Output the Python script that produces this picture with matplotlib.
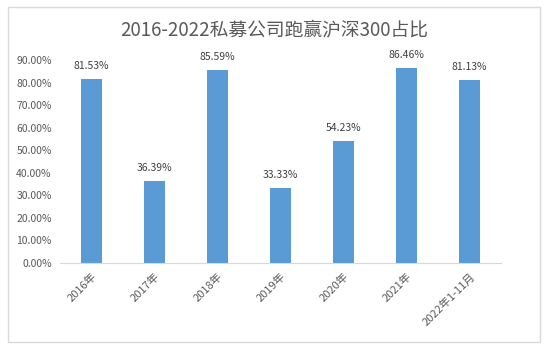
import numpy as np
import matplotlib.pyplot as plt
from matplotlib.patches import Rectangle

plt.rcParams['font.family'] = ['Noto Sans CJK SC', 'DejaVu Sans']

# 数据
categories = ['2016年', '2017年', '2018年', '2019年', '2020年', '2021年', '2022年1-11月']
values = [81.53, 36.39, 85.59, 33.33, 54.23, 86.46, 81.13]
title = '2016-2022私募公司跑赢沪深300占比'

grey = '#595959'
fig = plt.figure(figsize=(5.49, 3.51), dpi=100)
ax = fig.add_axes([60 / 549, (351 - 263) / 351, 441 / 549, 203 / 351])

x = np.arange(len(categories))
bars = ax.bar(x, values, width=0.32, color='#5B9BD5')
for xi, v in zip(x, values):
    ax.text(xi, v + 3.5, f'{v:.2f}%', ha='center', va='bottom', fontsize=7.5, color='#404040')

ax.set_xlim(-0.5, len(categories) - 0.5)
ax.set_ylim(0, 90)
ax.set_yticks(np.arange(0, 91, 10))
ax.set_yticklabels([f'{t:.2f}%' for t in range(0, 91, 10)], fontsize=7.5, color=grey)
ax.set_xticks(x)
ax.set_xticklabels(categories, rotation=45, ha='right', rotation_mode='anchor', fontsize=8, color=grey)
ax.tick_params(length=0, pad=6)
for s in ['top', 'right', 'left']:
    ax.spines[s].set_visible(False)
ax.spines['bottom'].set_color('#D9D9D9')

fig.text(0.5, (351 - 30) / 351, title, ha='center', va='center', fontsize=13.5, color=grey)

# 外框
fig.patches.append(Rectangle((8 / 549, 9 / 351), 532 / 549, 335 / 351, transform=fig.transFigure,
                             fill=False, edgecolor='#D9D9D9', linewidth=1))

fig.savefig('out.png', dpi=100)
